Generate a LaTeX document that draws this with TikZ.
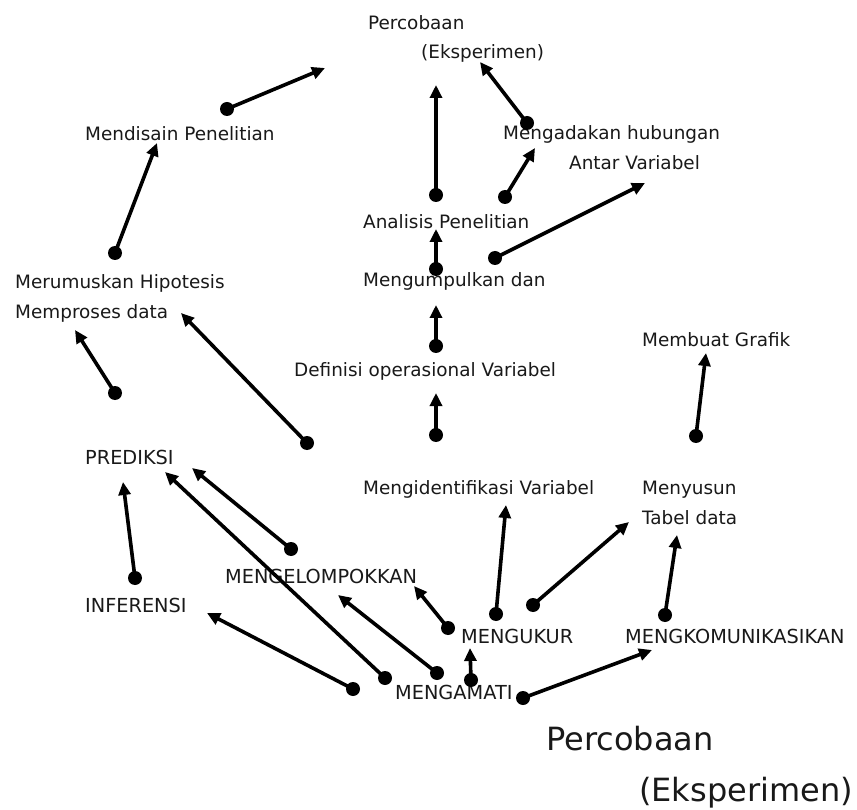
\documentclass[tikz,border=0pt]{standalone}
\usepackage{fontspec}
\setmainfont{DejaVu Sans}
\usetikzlibrary{arrows.meta}
\begin{document}
\begin{tikzpicture}[x=1pt,y=-1pt,
  lbl/.style={anchor=base west, inner sep=0pt, font=\fontsize{18.4}{22}\selectfont, text=black!90},
  caps/.style={lbl, font=\fontsize{19.3}{23}\selectfont},
  big/.style={lbl, font=\fontsize{32}{38}\selectfont},
  dotn/.style={circle, fill=black, minimum size=14pt, inner sep=0pt},
  conn/.style={line width=3.6pt, -{Triangle[length=13pt,width=12pt]}}]
\useasboundingbox[fill=white] (0,0) rectangle (857,810);

% labels
\node[lbl] (perc) at (368,29.5) {Percobaan};
\node[lbl] (eksp) at (421,58.5) {(Eksperimen)};
\node[lbl] (mend) at (85,140.5) {Mendisain Penelitian};
\node[lbl] (meng) at (503,139.5) {Mengadakan hubungan};
\node[lbl] (antar) at (569,169.5) {Antar Variabel};
\node[lbl] (anal) at (363,228.5) {Analisis Penelitian};
\node[lbl] (meru) at (15,288.5) {Merumuskan Hipotesis};
\node[lbl] (mengum) at (363,286.5) {Mengumpulkan dan};
\node[lbl] (mempr) at (15,318.5) {Memproses data};
\node[lbl] (grafik) at (642,346.5) {Membuat Grafik};
\node[lbl] (defin) at (294,376.5) {Definisi operasional Variabel};
\node[caps] (pred) at (85,464.5) {PREDIKSI};
\node[lbl] (ident) at (363,494.5) {Mengidentifikasi Variabel};
\node[lbl] (menyu) at (642,494.5) {Menyusun};
\node[lbl] (tabel) at (642,524.5) {Tabel data};
\node[caps] (kelom) at (225,583.5) {MENGELOMPOKKAN};
\node[caps] (infer) at (85,612.5) {INFERENSI};
\node[caps] (ukur) at (461,643.5) {MENGUKUR};
\node[caps] (komun) at (625,643.5) {MENGKOMUNIKASIKAN};
\node[caps] (amati) at (395,699.5) {MENGAMATI};
\node[big] (bigp) at (546,750) {Percobaan};
\node[big] (bige) at (639,801) {(Eksperimen)};

% dots (connector starts)
\node[dotn] (s1) at (227,109) {};
\node[dotn] (s2) at (115,253) {};
\node[dotn] (s3) at (115,393) {};
\node[dotn] (s4) at (307,443) {};
\node[dotn] (s5) at (436,195) {};
\node[dotn] (s6) at (527,123) {};
\node[dotn] (s7) at (505,197) {};
\node[dotn] (s8) at (495,258) {};
\node[dotn] (s9) at (436,269) {};
\node[dotn] (s10) at (436,346) {};
\node[dotn] (s11) at (436,435) {};
\node[dotn] (s12) at (696,436) {};
\node[dotn] (s13) at (135,578) {};
\node[dotn] (s14) at (385,678) {};
\node[dotn] (s15) at (291,549) {};
\node[dotn] (s16) at (353,689) {};
\node[dotn] (s17) at (437,673) {};
\node[dotn] (s18) at (448,628) {};
\node[dotn] (s19) at (496,614) {};
\node[dotn] (s20) at (533,605) {};
\node[dotn] (s21) at (665,615) {};
\node[dotn] (s22) at (471,680) {};
\node[dotn] (s23) at (523,698) {};

% tips
\coordinate (t1) at (325,68);
\coordinate (t2) at (157,143);
\coordinate (t3) at (75,330);
\coordinate (t4) at (181,313);
\coordinate (t5) at (436,85);
\coordinate (t6) at (480,62);
\coordinate (t7) at (535,148);
\coordinate (t8) at (645,183);
\coordinate (t9) at (436,229);
\coordinate (t10) at (436,305);
\coordinate (t11) at (436,393);
\coordinate (t12) at (706,353);
\coordinate (t13) at (123,482);
\coordinate (t14) at (165,472);
\coordinate (t15) at (192,468);
\coordinate (t16) at (207,613);
\coordinate (t17) at (338,595);
\coordinate (t18) at (414,586);
\coordinate (t19) at (506,505);
\coordinate (t20) at (629,522);
\coordinate (t21) at (677,535);
\coordinate (t22) at (470,648);
\coordinate (t23) at (652,650);

\foreach \i in {1,...,23} {\draw[conn] (s\i.center) -- (t\i);}
\end{tikzpicture}
\end{document}
